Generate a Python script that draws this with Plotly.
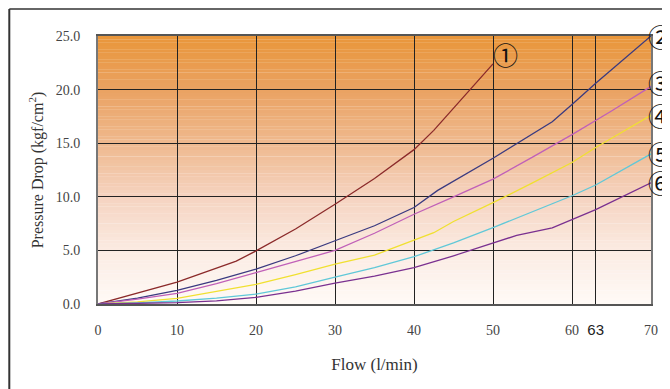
import numpy as np
import plotly.graph_objects as go
from plotly.colors import sample_colorscale

# flow (l/min) vs pressure drop (kgf/cm2)
flow_1 = [0, 5, 10, 17.5, 20, 25, 30, 35, 40, 42.5, 46, 50]
drop_1 = [0, 1.0, 2.05, 4.0, 4.95, 7.0, 9.3, 11.7, 14.4, 16.2, 19.1, 22.4]

flow_2 = [0, 5, 10, 15, 20, 25, 30, 35, 40, 43, 50, 57.5, 60, 63, 70]
drop_2 = [0, 0.55, 1.28, 2.2, 3.26, 4.5, 5.9, 7.3, 9.0, 10.6, 13.6, 17.0, 18.6, 20.6, 25.0]

flow_3 = [0, 5, 10, 15, 20, 25, 30, 35, 40, 45, 50, 55, 60, 65, 70]
drop_3 = [0, 0.45, 1.0, 1.9, 2.92, 3.95, 5.0, 6.6, 8.37, 10.0, 11.65, 13.7, 15.8, 18.0, 20.3]

flow_4 = [0, 5, 10, 15, 20, 25, 30, 35, 40, 42.5, 45, 50, 55, 60, 63, 70]
drop_4 = [0, 0.2, 0.53, 1.15, 1.84, 2.75, 3.73, 4.55, 5.97, 6.65, 7.7, 9.45, 11.3, 13.2, 14.6, 17.6]

flow_5 = [0, 5, 10, 15, 20, 25, 30, 35, 40, 42.5, 45, 50, 55, 60, 63, 70]
drop_5 = [0, 0.1, 0.28, 0.55, 0.93, 1.6, 2.5, 3.4, 4.41, 5.04, 5.7, 7.12, 8.6, 10.1, 11.1, 14.0]

flow_6 = [0, 5, 10, 15, 20, 25, 30, 35, 40, 45, 50, 53, 57.5, 60, 63, 70]
drop_6 = [0, 0.05, 0.12, 0.3, 0.62, 1.2, 1.95, 2.6, 3.39, 4.5, 5.66, 6.4, 7.1, 7.9, 8.8, 11.3]

curve_labels = ["①", "②", "③", "④", "⑤", "⑥"]
curve_colors = ["#8b2a2a", "#3a3a80", "#c060b8", "#f0e030", "#60c8d8", "#7a3090"]

x_ticks = [0, 10, 20, 30, 40, 50, 60, 63, 70]
x_ticktext = ["0", "10", "20", "30", "40", "50", "60",
              "<span style='font-family:Liberation Sans;font-size:15px;color:#222'>63</span>", "70"]
y_ticks = [0, 5, 10, 15, 20, 25]

series = [(flow_1, drop_1), (flow_2, drop_2), (flow_3, drop_3),
          (flow_4, drop_4), (flow_5, drop_5), (flow_6, drop_6)]

bg_scale = [[0, "#fffaf7"], [0.2, "#fbebe2"], [0.4, "#f5d3c0"],
            [0.6, "#efb98e"], [0.8, "#eaa262"], [1, "#e9963a"]]

fig = go.Figure()

# orange -> white gradient behind the grid, as thin strips
n_strips = 80
edges = np.linspace(0, 25, n_strips + 1)
strip_cols = sample_colorscale(bg_scale, list((edges[:-1] + edges[1:]) / 50))
for y0, y1, c in zip(edges[:-1], edges[1:], strip_cols):
    fig.add_shape(type="rect", xref="x", yref="y", x0=0, x1=70, y0=y0, y1=y1 + 0.02,
                  fillcolor=c, line=dict(width=0), layer="below")

for (fx, fy), color in zip(series, curve_colors):
    fig.add_trace(go.Scatter(x=fx, y=fy, mode="lines",
                             line=dict(color=color, width=1.3),
                             showlegend=False))

# circled curve numbers
label_shift = [(12, 10), (9, 0), (9, 4), (9, 0), (9, 1), (9, 1)]
for (fx, fy), text, (dx, dy) in zip(series, curve_labels, label_shift):
    fig.add_annotation(x=fx[-1], y=fy[-1], text=text, showarrow=False,
                       xshift=dx, yshift=dy, borderpad=0,
                       font=dict(family="Noto Sans CJK JP", size=25, color="#111"))

# outer frame lines (left and top)
fig.add_shape(type="line", xref="paper", yref="paper",
              x0=-0.1604, x1=-0.1604, y0=1.1007, y1=-0.4,
              line=dict(color="#333", width=2))
fig.add_shape(type="line", xref="paper", yref="paper",
              x0=-0.1604, x1=1.05, y0=1.1007, y1=1.1007,
              line=dict(color="#333", width=1.5))

fig.update_layout(
    width=662, height=381,
    margin=dict(l=90, r=14, t=28, b=85),
    paper_bgcolor="white",
    plot_bgcolor="white",
    font=dict(family="Liberation Serif", size=14, color="#444"),
    xaxis=dict(
        title=dict(text="Flow (l/min)", font=dict(size=17, color="#333"), standoff=21),
        range=[0, 70], tickvals=x_ticks, ticktext=x_ticktext,
        showgrid=True, gridcolor="#222", gridwidth=1.1,
        showline=True, linecolor="#555", linewidth=2, mirror=True,
        ticks="", ticklabelstandoff=12, zeroline=False,
    ),
    yaxis=dict(
        title=dict(text="Pressure Drop (kgf/cm<sup>2</sup>)", font=dict(size=16, color="#333"),
                   standoff=8),
        range=[0, 25], tickvals=y_ticks, tickformat=".1f",
        showgrid=True, gridcolor="#222", gridwidth=1.1,
        showline=True, linecolor="#777", linewidth=2, mirror=True,
        ticks="", ticklabelstandoff=13, zeroline=False,
    ),
)

fig.write_html("out.html")
